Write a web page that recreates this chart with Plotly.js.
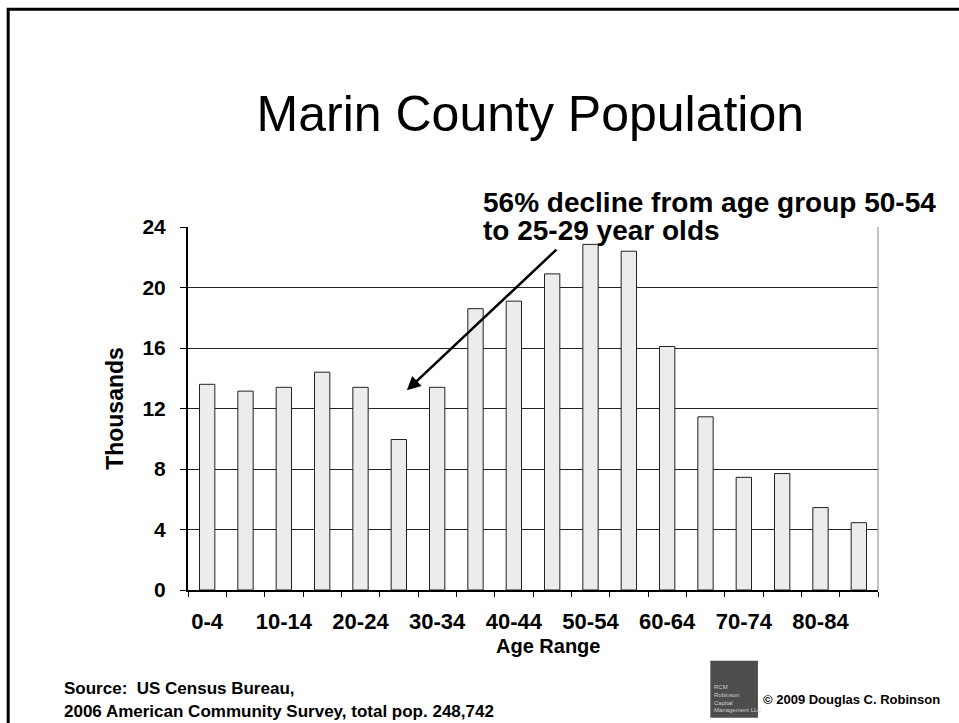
<!DOCTYPE html>
<html>
<head>
<meta charset="utf-8">
<script src="https://cdn.plot.ly/plotly-3.0.1.min.js"></script>
<style>
html,body{margin:0;padding:0;background:#fff;overflow:hidden;}
#chart{width:959px;height:723px;}
</style>
</head>
<body>
<div id="chart"></div>
<script>
// Data (thousands of people)
const ageGroups = ['0-4','5-9','10-14','15-19','20-24','25-29','30-34','35-39','40-44','45-49','50-54','55-59','60-64','65-69','70-74','75-79','80-84','85+'];
const population = [13.6, 13.15, 13.4, 14.4, 13.4, 9.95, 13.4, 18.6, 19.1, 20.9, 22.85, 22.4, 16.1, 11.45, 7.45, 7.7, 5.45, 4.45];
const xTickText = ['0-4','','10-14','','20-24','','30-34','','40-44','','50-54','','60-64','','70-74','','80-84',''];
const yTickVals = [0, 4, 8, 12, 16, 20, 24];

const titleText = 'Marin County Population';
const noteLines = ['56% decline from age group 50-54', 'to 25-29 year olds'];
const sourceLines = ['Source:  US Census Bureau,', '2006 American Community Survey, total pop. 248,742'];
const xTitleText = 'Age Range';
const yTitleText = 'Thousands';
const copyrightText = '© 2009 Douglas C. Robinson';
const logoText = 'RCM<br>Robinson<br>Capital<br>Management LLC';

const FONT = 'Liberation Sans, Arial, Helvetica, sans-serif';

const trace = {
  type: 'bar',
  x: ageGroups,
  y: population,
  marker: {color: '#ECECEC', line: {color: '#222', width: 1}},
  hoverinfo: 'x+y'
};

const annotations = [
  {
    text: '', showarrow: true,
    xref: 'x', yref: 'y', axref: 'x', ayref: 'y',
    x: 5.21, y: 13.2, ax: 9.15, ay: 22.6,
    arrowhead: 2, arrowsize: 1.1, arrowwidth: 2.5, arrowcolor: '#000'
  },
  {
    text: '<b>' + xTitleText + '</b>', showarrow: false,
    xref: 'paper', yref: 'paper', x: 0.522, y: -0.153, xanchor: 'center', yanchor: 'middle',
    font: {family: FONT, size: 20, color: '#000'}
  },
  {
    text: '<b>' + copyrightText + '</b>', showarrow: false,
    xref: 'paper', yref: 'paper', x: 0.831, y: -0.303, xanchor: 'left', yanchor: 'middle', align: 'left',
    font: {family: FONT, size: 13, color: '#000'}
  },
  {
    text: logoText, showarrow: false,
    xref: 'paper', yref: 'paper', x: 0.759, y: -0.3, xanchor: 'left', yanchor: 'middle', align: 'left',
    font: {family: FONT, size: 6, color: '#ccc'}
  }
];
const noteY = [1.067, 0.990];
noteLines.forEach((t, i) => annotations.push({
  text: '<b>' + t + '</b>', showarrow: false,
  xref: 'paper', yref: 'paper', x: 0.424, y: noteY[i], xanchor: 'left', yanchor: 'middle', align: 'left',
  font: {family: FONT, size: 28, color: '#000'}
}));
const sourceY = [-0.270, -0.336];
sourceLines.forEach((t, i) => annotations.push({
  text: '<b>' + t + '</b>', showarrow: false,
  xref: 'paper', yref: 'paper', x: -0.183, y: sourceY[i], xanchor: 'left', yanchor: 'middle', align: 'left',
  font: {family: FONT, size: 17, color: '#000'}
}));

const layout = {
  width: 959, height: 723,
  margin: {l: 188, r: 81, t: 227, b: 133, pad: 0},
  paper_bgcolor: '#fff', plot_bgcolor: '#fff',
  showlegend: false,
  bargap: 0.6,
  font: {family: FONT, color: '#000'},
  title: {
    text: titleText,
    font: {family: FONT, size: 50, color: '#000'},
    x: 0.553, xanchor: 'center', xref: 'container',
    y: 0.843, yanchor: 'middle', yref: 'container'
  },
  xaxis: {
    type: 'category',
    tickmode: 'array', tickvals: ageGroups, ticktext: xTickText,
    tickson: 'boundaries',
    ticks: 'outside', ticklen: 5, tickwidth: 1, tickcolor: '#000',
    showline: true, linecolor: '#000', linewidth: 2,
    showgrid: false, zeroline: false,
    tickfont: {family: FONT, size: 22, color: '#000', weight: 'bold'},
    ticklabelstandoff: 11,
    tickangle: 0,
    fixedrange: true
  },
  yaxis: {
    range: [0, 24],
    tickmode: 'array', tickvals: yTickVals,
    ticks: 'outside', ticklen: 6, tickwidth: 1, tickcolor: '#000',
    showline: true, linecolor: '#000', linewidth: 2,
    showgrid: true, gridcolor: '#222', gridwidth: 1,
    zeroline: false,
    tickfont: {family: FONT, size: 21, color: '#000', weight: 'bold'},
    ticklabelstandoff: 10,
    title: {text: '<b>' + yTitleText + '</b>', font: {family: FONT, size: 23, color: '#000'}, standoff: 12},
    fixedrange: true
  },
  shapes: [
    {type: 'line', xref: 'paper', yref: 'paper', x0: 1, x1: 1, y0: 0, y1: 1, line: {color: '#888', width: 1}},
    {type: 'rect', xref: 'paper', yref: 'paper', x0: -0.2606, x1: 1.2, y0: -0.5, y1: 1.6, line: {color: '#000', width: 3}, fillcolor: 'rgba(0,0,0,0)', layer: 'below'},
    {type: 'rect', xref: 'paper', yref: 'paper', x0: 0.757, x1: 0.826, y0: -0.195, y1: -0.352, line: {width: 0}, fillcolor: '#4d4d4d'}
  ],
  annotations: annotations
};

Plotly.newPlot('chart', [trace], layout, {displayModeBar: false, staticPlot: true});
</script>
</body>
</html>
